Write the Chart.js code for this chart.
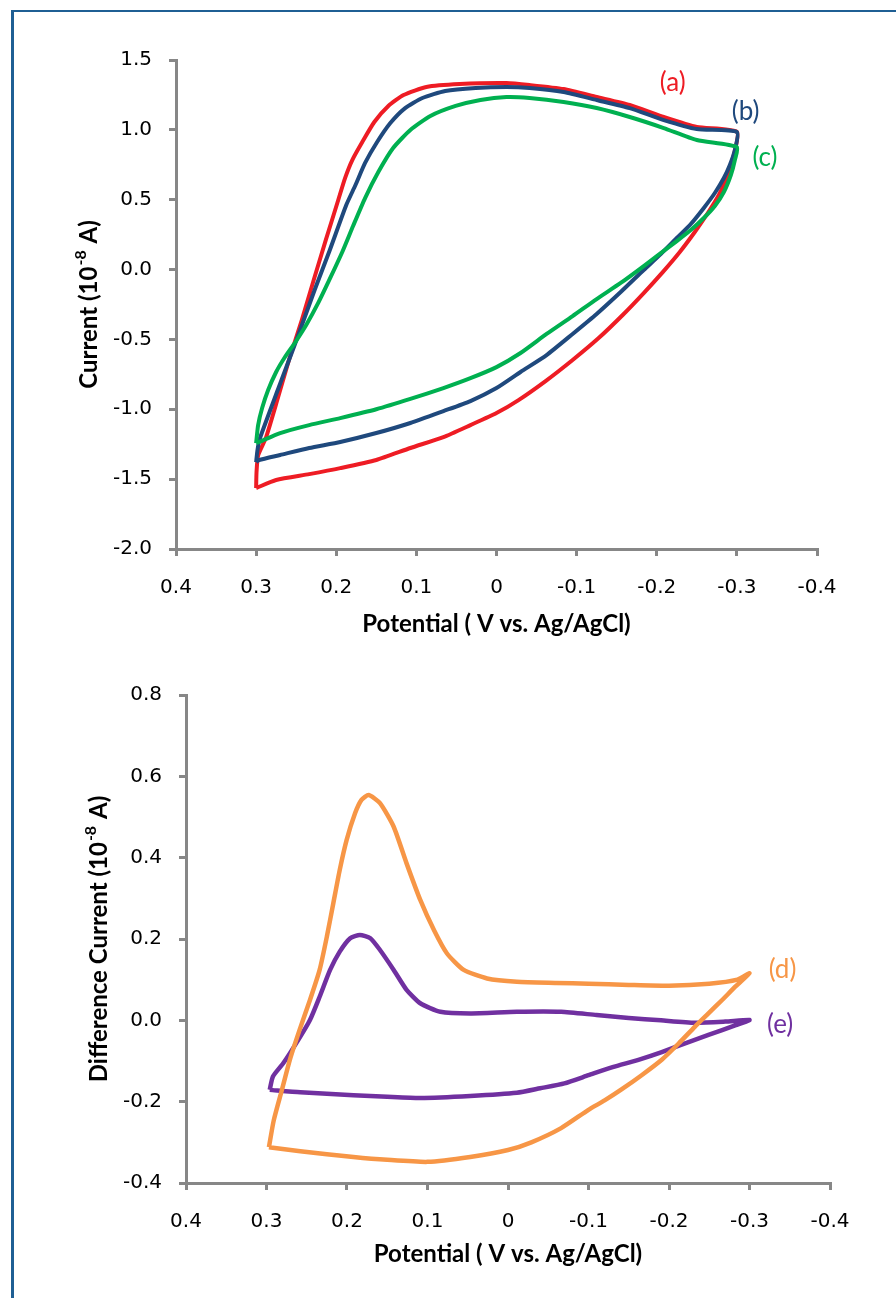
<!DOCTYPE html>
<html>
<head>
<meta charset="utf-8">
<script src="https://cdn.jsdelivr.net/npm/chart.js@4.4.1/dist/chart.umd.min.js"></script>
<style>
  html, body { margin: 0; padding: 0; background: #fff; }
  body { width: 896px; height: 1298px; position: relative; overflow: hidden; }
  #frame { position: absolute; left: 11px; top: 10px; width: 900px; height: 1300px;
           border-left: 3px solid #1f5f94; border-top: 2px solid #1f5f94; }
  .box { position: absolute; left: 0; width: 896px; }
  #top { top: 0; height: 660px; }
  #bottom { top: 660px; height: 638px; }
</style>
</head>
<body>
<div id="frame"></div>
<div class="box" id="top"><canvas id="cvTop"></canvas></div>
<div class="box" id="bottom"><canvas id="cvBottom"></canvas></div>
<script>
// top panel: cyclic voltammograms (a), (b), (c)  -- potential (V), current (1e-8 A)
const potA = [0.300, 0.2995, 0.2975, 0.2875, 0.2725, 0.259, 0.243, 0.227, 0.213, 0.1975,
  0.189, 0.180, 0.1675, 0.1525, 0.135, 0.116, 0.0875, 0.046, -0.0125, -0.04125,
  -0.08375, -0.125, -0.16625, -0.20875, -0.250, -0.300, -0.29625, -0.28875, -0.2775, -0.26375,
  -0.2475, -0.22875, -0.2075, -0.18375, -0.1575, -0.1275, -0.095, -0.06125, -0.0275, 0.000,
  0.0325, 0.06625, 0.1075, 0.150, 0.195, 0.23375, 0.275, 0.300];
const curA = [-1.564, -1.45, -1.33, -1.199, -0.912, -0.647, -0.361, -0.053, 0.212, 0.498,
  0.655, 0.784, 0.913, 1.056, 1.171, 1.249, 1.307, 1.328, 1.335, 1.321,
  1.292, 1.235, 1.178, 1.092, 1.02, 0.985, 0.82, 0.677, 0.534, 0.405,
  0.269, 0.126, -0.018, -0.168, -0.325, -0.49, -0.647, -0.798, -0.934, -1.027,
  -1.113, -1.199, -1.277, -1.363, -1.421, -1.464, -1.506, -1.564];

const potB = [0.300, 0.2985, 0.296, 0.273, 0.251, 0.227, 0.208, 0.1875, 0.176, 0.164,
  0.149, 0.1325, 0.114, 0.0925, 0.064, 0.026, -0.0125, -0.04125, -0.08375, -0.125,
  -0.16625, -0.20875, -0.250, -0.300, -0.2975, -0.29125, -0.28375, -0.2725, -0.25875, -0.2425,
  -0.225, -0.205, -0.18375, -0.155, -0.125, -0.095, -0.0625, -0.030, 0.000, 0.0325,
  0.06625, 0.1075, 0.150, 0.195, 0.23375, 0.270, 0.29625, 0.300];
const curB = [-1.378, -1.30, -1.22, -0.862, -0.526, -0.146, 0.14, 0.462, 0.605, 0.763,
  0.913, 1.049, 1.156, 1.228, 1.278, 1.30, 1.307, 1.30, 1.271, 1.214,
  1.156, 1.07, 1.006, 0.985, 0.856, 0.748, 0.655, 0.548, 0.441, 0.326,
  0.226, 0.111, -0.003, -0.161, -0.318, -0.461, -0.612, -0.733, -0.848, -0.941,
  -1.013, -1.098, -1.17, -1.234, -1.277, -1.327, -1.363, -1.378];

const potC = [0.300, 0.2975, 0.2925, 0.285, 0.275, 0.264, 0.251, 0.2375, 0.2225, 0.2075,
  0.1925, 0.179, 0.164, 0.1475, 0.129, 0.1075, 0.0825, 0.051, 0.020, -0.0125,
  -0.04125, -0.08375, -0.125, -0.16625, -0.20875, -0.250, -0.300, -0.2975, -0.2925, -0.28375,
  -0.2725, -0.25875, -0.2425, -0.225, -0.205, -0.18375, -0.155, -0.125, -0.095, -0.0625,
  -0.030, 0.000, 0.0325, 0.06625, 0.1075, 0.150, 0.195, 0.23375, 0.270, 0.29625,
  0.300];
const curC = [-1.242, -1.113, -0.991, -0.862, -0.733, -0.626, -0.519, -0.397, -0.239, -0.06,
  0.126, 0.312, 0.512, 0.698, 0.87, 0.999, 1.099, 1.171, 1.214, 1.235,
  1.228, 1.199, 1.156, 1.092, 1.013, 0.927, 0.877, 0.784, 0.677, 0.555,
  0.455, 0.369, 0.283, 0.204, 0.118, 0.025, -0.096, -0.211, -0.333, -0.461,
  -0.597, -0.698, -0.777, -0.848, -0.926, -1.0, -1.063, -1.113, -1.17, -1.234,
  -1.242];

// bottom panel: difference currents (d), (e)
const potD = [0.297, 0.291, 0.281, 0.271, 0.259, 0.246, 0.234, 0.225, 0.217, 0.209,
  0.2005, 0.190, 0.182, 0.173, 0.159, 0.142, 0.126, 0.109, 0.092, 0.076,
  0.055, 0.026, -0.011, -0.060, -0.100, -0.150, -0.200, -0.250, -0.285, -0.300,
  -0.283, -0.266, -0.249, -0.232, -0.212, -0.191, -0.166, -0.141, -0.120, -0.100,
  -0.066, -0.029, 0.000, 0.047, 0.100, 0.150, 0.192, 0.258, 0.297];
const curD = [-0.312, -0.246, -0.172, -0.097, -0.024, 0.05, 0.124, 0.206, 0.288, 0.37,
  0.443, 0.509, 0.542, 0.554, 0.534, 0.476, 0.386, 0.296, 0.222, 0.165,
  0.124, 0.103, 0.095, 0.092, 0.09, 0.087, 0.085, 0.09, 0.10, 0.116,
  0.084, 0.05, 0.017, -0.016, -0.057, -0.097, -0.135, -0.17, -0.197, -0.22,
  -0.265, -0.30, -0.319, -0.336, -0.348, -0.343, -0.336, -0.322, -0.312];

const potE = [0.296, 0.292, 0.279, 0.263, 0.246, 0.234, 0.221, 0.209, 0.196, 0.184,
  0.171, 0.159, 0.142, 0.126, 0.109, 0.084, 0.047, -0.011, -0.066, -0.110,
  -0.150, -0.190, -0.232, -0.270, -0.300, -0.283, -0.266, -0.232, -0.191, -0.162,
  -0.130, -0.100, -0.070, -0.040, -0.011, 0.047, 0.109, 0.150, 0.192, 0.258,
  0.296];
const curE = [-0.171, -0.138, -0.105, -0.056, 0.001, 0.058, 0.124, 0.169, 0.202, 0.21,
  0.202, 0.173, 0.124, 0.075, 0.042, 0.021, 0.017, 0.021, 0.021, 0.013,
  0.006, 0.0, -0.006, -0.003, 0.001, -0.012, -0.024, -0.048, -0.078, -0.097,
  -0.115, -0.135, -0.155, -0.167, -0.178, -0.186, -0.191, -0.188, -0.184, -0.177,
  -0.171];

// curve labels (text, potential, current)
const topLabels = ["(a)", "(b)", "(c)"];
const topLabelPot = [-0.22, -0.311, -0.335];
const topLabelCur = [1.335, 1.128, 0.80];
const bottomLabels = ["(d)", "(e)"];
const bottomLabelPot = [-0.341, -0.338];
const bottomLabelCur = [0.124, -0.011];

const xTitle = "Potential ( V vs. Ag/AgCl)";
// y titles as [text before superscript, superscript, text after]
const topYTitle = ["Current (10", "-8", " A)"];
const bottomYTitle = ["Difference Current (10", "-8", " A)"];

const AXIS = "#878787";
const TICK_FONT = { family: "DejaVu Sans", size: 20 };
const TITLE_FONT = { family: "Lato", size: 24, weight: "bold" };

function toPoints(xs, ys) {
  return xs.map((x, i) => ({ x: x, y: ys[i] }));
}

function curve(xs, ys, color, width, order) {
  return {
    data: toPoints(xs, ys),
    showLine: true,
    borderColor: color,
    backgroundColor: color,
    borderWidth: width,
    pointRadius: 0,
    tension: 0.2,
    fill: false,
    order: order,
  };
}

// draw the (a)...(e) tags at data coordinates, and the rotated y title with a superscript
const curveLabels = {
  id: "curveLabels",
  afterDatasetsDraw(chart, args, opts) {
    const ctx = chart.ctx;
    ctx.save();
    ctx.font = "26px Lato";
    ctx.textAlign = "center";
    ctx.textBaseline = "middle";
    opts.texts.forEach((t, i) => {
      ctx.fillStyle = opts.colors[i];
      ctx.fillText(t, chart.scales.x.getPixelForValue(opts.pot[i]), chart.scales.y.getPixelForValue(opts.cur[i]));
    });
    ctx.restore();

    // y axis title
    const parts = opts.yTitle;
    const main = "bold 24px Lato";
    const sup = "bold 16px Lato";
    ctx.save();
    ctx.fillStyle = "#000";
    ctx.textBaseline = "middle";
    ctx.textAlign = "left";
    ctx.font = main;
    const w0 = ctx.measureText(parts[0]).width;
    const w2 = ctx.measureText(parts[2]).width;
    ctx.font = sup;
    const w1 = ctx.measureText(parts[1]).width + 2;
    const total = w0 + w1 + w2;
    const cy = (chart.chartArea.top + chart.chartArea.bottom) / 2;
    ctx.translate(opts.titleX, cy);
    ctx.rotate(-Math.PI / 2);
    let x = -total / 2;
    ctx.font = main;
    ctx.fillText(parts[0], x, 0);
    x += w0 + 1;
    ctx.font = sup;
    ctx.fillText(parts[1], x, -8);
    x += w1 - 1;
    ctx.font = main;
    ctx.fillText(parts[2], x, 0);
    ctx.restore();
  },
};

function makeOptions(cfg) {
  return {
    responsive: true,
    maintainAspectRatio: false,
    animation: false,
    layout: { padding: cfg.padding },
    plugins: {
      legend: { display: false },
      tooltip: { enabled: false },
      curveLabels: cfg.labels,
    },
    scales: {
      x: {
        type: "linear",
        reverse: true,
        min: -0.4,
        max: 0.4,
        afterFit: (s) => { s.height = cfg.xHeight; },
        ticks: { stepSize: 0.1, color: "#000", font: TICK_FONT, padding: 20, maxRotation: 0,
                 callback: (v) => (Math.abs(v) < 1e-9 ? "0" : v.toFixed(1)) },
        grid: { drawOnChartArea: false, drawTicks: true, tickLength: 7, color: AXIS, lineWidth: 3 },
        border: { color: AXIS, width: 3 },
        title: { display: true, text: xTitle, color: "#000", font: TITLE_FONT },
      },
      y: {
        type: "linear",
        min: cfg.yMin,
        max: cfg.yMax,
        afterFit: (s) => { s.width = cfg.yWidth; },
        ticks: { stepSize: cfg.yStep, color: "#000", font: TICK_FONT, padding: 17,
                 callback: (v) => (Math.abs(v) < 1e-9 ? "0.0" : v.toFixed(1)) },
        grid: { drawOnChartArea: false, drawTicks: true, tickLength: 7, color: AXIS, lineWidth: 3 },
        border: { color: AXIS, width: 3 },
        title: { display: false },
      },
    },
  };
}

new Chart(document.getElementById("cvTop"), {
  type: "scatter",
  data: {
    datasets: [
      curve(potA, curA, "#ee1c24", 4, 3),
      curve(potB, curB, "#1f497d", 4, 2),
      curve(potC, curC, "#00b050", 4, 1),
    ],
  },
  options: makeOptions({
    padding: { left: 72, top: 60, right: 79, bottom: 17 },
    yWidth: 104,
    xHeight: 94,
    yMin: -2.0,
    yMax: 1.5,
    yStep: 0.5,
    labels: { texts: topLabels, pot: topLabelPot, cur: topLabelCur, colors: ["#ee1c24", "#1f497d", "#00b050"],
              yTitle: topYTitle, titleX: 89 },
  }),
  plugins: [curveLabels],
});

new Chart(document.getElementById("cvBottom"), {
  type: "scatter",
  data: {
    datasets: [
      curve(potD, curD, "#f79646", 4.5, 1),
      curve(potE, curE, "#7030a0", 4.5, 2),
    ],
  },
  options: makeOptions({
    padding: { left: 82, top: 35, right: 66, bottom: 25 },
    yWidth: 104,
    xHeight: 90,
    yMin: -0.4,
    yMax: 0.8,
    yStep: 0.2,
    labels: { texts: bottomLabels, pot: bottomLabelPot, cur: bottomLabelCur, colors: ["#f79646", "#7030a0"],
              yTitle: bottomYTitle, titleX: 99 },
  }),
  plugins: [curveLabels],
});
</script>
</body>
</html>
